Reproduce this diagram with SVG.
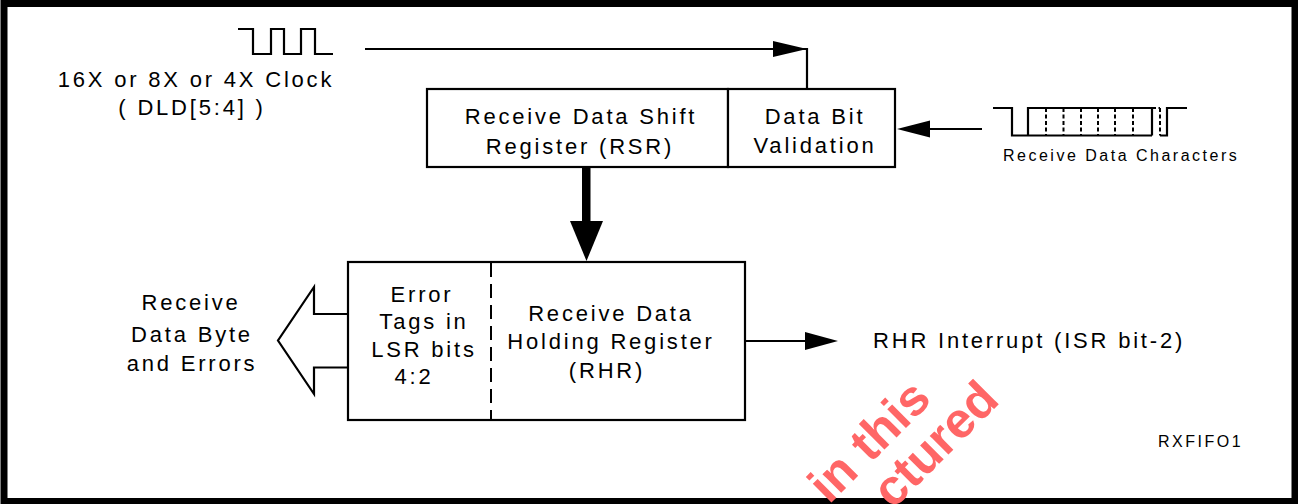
<svg xmlns="http://www.w3.org/2000/svg" width="1298" height="504" viewBox="0 0 1298 504">
<style>
.t{font-family:"Liberation Sans",Arial,sans-serif;font-size:22px;letter-spacing:2.8px;fill:#000;text-anchor:middle}
.s{font-family:"Liberation Sans",Arial,sans-serif;font-size:16px;letter-spacing:2.5px;fill:#000}
.ln{fill:none;stroke:#000;stroke-width:2.2}
.box{fill:#fff;stroke:#000;stroke-width:2.2}
.dash{fill:none;stroke:#000;stroke-width:2}
.wm{font-family:"Liberation Sans",Arial,sans-serif;font-weight:bold;font-size:50px;fill:#ff6666}
</style>
<rect x="0" y="0" width="1298" height="504" fill="#fff"/>
<rect x="4" y="3.5" width="1291" height="498" fill="none" stroke="#000" stroke-width="7"/>

<g id="clock">
<polyline class="ln" points="238,29 253,29 253,54 271,54 271,29 284,29 284,54 301,54 301,29 315,29 315,54 333,54"/>
<text class="t" x="196" y="87">16X or 8X or 4X Clock</text>
<text class="t" x="192" y="115">( DLD[5:4] )</text>
</g>

<g id="rsr">
<rect class="box" x="427" y="89" width="301" height="78"/>
<text class="t" x="581" y="124">Receive Data Shift</text>
<text class="t" x="580" y="154">Register (RSR)</text>
</g>

<g id="dbv">
<rect class="box" x="728" y="89" width="167" height="78"/>
<text class="t" x="815" y="124">Data Bit</text>
<text class="t" x="815" y="153">Validation</text>
</g>

<g id="rxchars">
<path class="ln" d="M993,108 H1012 V135.5 H1152 M1028,135.5 V108 H1152 V135.5 M1160,135.5 H1167 V108 H1187"/>
<path class="dash" stroke-dasharray="4 2.5" d="M1046,108 V135.5 M1063.5,108 V135.5 M1081,108 V135.5 M1098,108 V135.5 M1115,108 V135.5 M1133,108 V135.5 M1160,108 V135.5 M1152,108 H1160"/>
<text class="s" x="1003" y="161">Receive Data Characters</text>
</g>

<g id="rhr">
<rect class="box" x="348" y="262" width="397" height="158"/>
<line class="dash" x1="491" y1="263" x2="491" y2="419" stroke-dasharray="14 7"/>
<text class="t" x="422" y="302">Error</text>
<text class="t" x="424" y="328.5">Tags in</text>
<text class="t" x="424" y="357">LSR bits</text>
<text class="t" x="414" y="384">4:2</text>
<text class="t" x="611" y="321">Receive Data</text>
<text class="t" x="611" y="349">Holding Register</text>
<text class="t" x="607" y="378">(RHR)</text>
</g>

<g id="out-left">
<polyline class="ln" points="348,314 314,314 314,287 278,340.5 314,394 314,367.5 348,367.5"/>
<text class="t" x="191" y="310">Receive</text>
<text class="t" x="192" y="341.5">Data Byte</text>
<text class="t" x="192" y="371">and Errors</text>
</g>

<g id="rhr-int">
<text class="t" x="873" y="348" style="text-anchor:start">RHR Interrupt (ISR bit-2)</text>
</g>

<g id="label">
<text class="s" x="1158" y="447">RXFIFO1</text>
</g>

<g id="connectors">
<polyline class="ln" points="365,49 807,49 807,89"/>
<polygon points="773,41 807,49 773,57" fill="#000"/>
<line class="ln" x1="982" y1="129" x2="925" y2="129"/>
<polygon points="930,120.5 897,129 930,137.5" fill="#000"/>
<rect x="582" y="167" width="8.5" height="55" fill="#000"/>
<polygon points="570,221 603,221 586.5,261" fill="#000"/>
<line class="ln" x1="745" y1="341" x2="810" y2="341"/>
<polygon points="805,332 838,341 805,350" fill="#000"/>
</g>

<g id="watermark">
<text class="wm" transform="translate(829,505) rotate(-45)">in this</text>
<text class="wm" transform="translate(893,510) rotate(-45)">ctured</text>
</g>
</svg>
